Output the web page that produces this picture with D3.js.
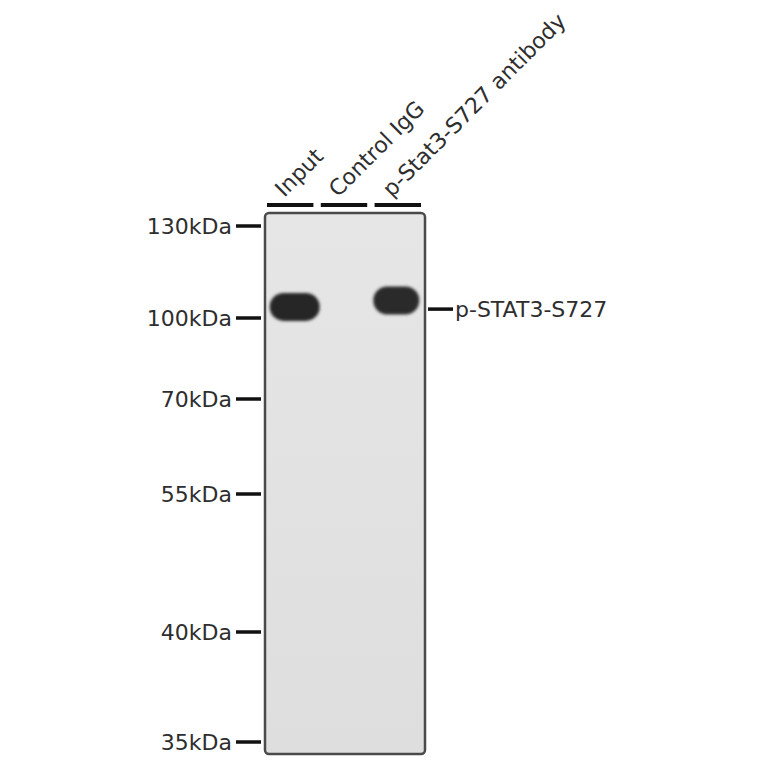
<!DOCTYPE html>
<html><head><meta charset="utf-8">
<script src="https://cdn.jsdelivr.net/npm/d3@7"></script>
<style>html,body{margin:0;padding:0;background:#fff;}svg{display:block;}</style>
</head><body>
<script>
// ---- data ----
const lanes = ["Input", "Control IgG", "p-Stat3-S727 antibody"];
const markerKDa = [130, 100, 70, 55, 40, 35];
const markerLabels = ["130kDa", "100kDa", "70kDa", "55kDa", "40kDa", "35kDa"];
const bandLanes = ["Input", "p-Stat3-S727 antibody"];
const bandKDa = [103.6, 105.7];
const bandIntensity = [1.0, 0.95];
const targetLabel = "p-STAT3-S727";
const targetKDa = 102.9;

// ---- layout ----
const W = 764, H = 764;
const svg = d3.select("body").append("svg").attr("width", W).attr("height", H);
const gel = {x0: 265, x1: 425, y0: 213, y1: 754};

// migration scale (piecewise, from marker ladder)
const y = d3.scaleLinear().domain(markerKDa).range([226, 318, 399, 494, 632, 742]);
const x = d3.scaleBand().domain(lanes).range([266, 422]).paddingInner(0.1).paddingOuter(0);

const defs = svg.append("defs");
const blur = defs.append("filter").attr("id", "blur").attr("x", "-30%").attr("y", "-60%").attr("width", "160%").attr("height", "220%");
blur.append("feGaussianBlur").attr("stdDeviation", 1.8);
const grad = defs.append("linearGradient").attr("id", "gelg").attr("x1", 0).attr("x2", 0).attr("y1", 0).attr("y2", 1);
grad.append("stop").attr("offset", "0%").attr("stop-color", "#e6e6e6");
grad.append("stop").attr("offset", "100%").attr("stop-color", "#dedede");

const font = "'DejaVu Sans', Verdana, sans-serif";
const fs = 22;

// gel
svg.append("rect").attr("x", gel.x0).attr("y", gel.y0)
  .attr("width", gel.x1 - gel.x0).attr("height", gel.y1 - gel.y0)
  .attr("rx", 4).attr("fill", "url(#gelg)").attr("stroke", "#4a4a4a").attr("stroke-width", 2.5);

// bands
const bands = bandLanes.map((l, i) => ({lane: l, kDa: bandKDa[i], k: bandIntensity[i]}));
const bw = d => d.k === 1 ? 50 : 46;
const bcx = d => x(d.lane) + x.bandwidth() / 2 + (d.k === 1 ? 4.5 : -1.5);
const bg = svg.append("g").attr("filter", "url(#blur)");
bg.selectAll("rect").data(bands).join("rect")
  .attr("x", d => bcx(d) - bw(d) / 2)
  .attr("width", bw)
  .attr("y", d => y(d.kDa) - 14)
  .attr("height", 28)
  .attr("rx", 14)
  .attr("fill", d => d3.interpolateRgb("#6a6a6a", "#262626")(d.k));

// lane lines
svg.selectAll("line.lane").data(lanes).join("line").attr("class", "lane")
  .attr("x1", d => x(d) + 1).attr("x2", d => x(d) + x.bandwidth() - 1)
  .attr("y1", 205).attr("y2", 205).attr("stroke", "#111").attr("stroke-width", 4);

// lane labels rotated
svg.selectAll("text.lane").data(lanes).join("text").attr("class", "lane")
  .attr("transform", d => `translate(${x(d) + x.bandwidth() / 2 - 6},198) rotate(-45)`)
  .attr("font-family", font).attr("font-size", fs).attr("fill", "#2e2e2e")
  .text(d => d);

// markers
const mk = markerKDa.map((k, i) => ({k, label: markerLabels[i]}));
svg.selectAll("line.mk").data(mk).join("line").attr("class", "mk")
  .attr("x1", 236).attr("x2", 261).attr("y1", d => y(d.k)).attr("y2", d => y(d.k))
  .attr("stroke", "#111").attr("stroke-width", 3.5);
svg.selectAll("text.mk").data(mk).join("text").attr("class", "mk")
  .attr("x", 232).attr("y", d => y(d.k)).attr("dy", "0.36em")
  .attr("text-anchor", "end").attr("font-family", font).attr("font-size", fs).attr("fill", "#2e2e2e")
  .text(d => d.label);

// target label
svg.append("line").attr("x1", 428).attr("x2", 453).attr("y1", y(targetKDa)).attr("y2", y(targetKDa))
  .attr("stroke", "#111").attr("stroke-width", 3.5);
svg.append("text").attr("x", 455).attr("y", y(targetKDa)).attr("dy", "0.36em")
  .attr("font-family", font).attr("font-size", fs).attr("fill", "#2e2e2e").text(targetLabel);
</script>
</body></html>
